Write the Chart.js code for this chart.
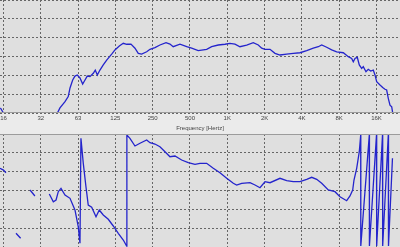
<!DOCTYPE html>
<html><head><meta charset="utf-8">
<script src="https://cdn.jsdelivr.net/npm/chart.js@4/dist/chart.umd.min.js"></script>
<style>
html,body{margin:0;padding:0;background:#ebebeb;overflow:hidden}
#w{position:relative;width:400px;height:247px;background:#ebebeb}
#c1{position:absolute;left:0;top:0}
#c2{position:absolute;left:0;top:134px}
</style></head><body>
<div id="w"><canvas id="c1" width="400" height="134"></canvas><canvas id="c2" width="400" height="113"></canvas></div>
<script>
// Frequency axis ticks
const tickFreqs = [16, 32, 64, 128, 256, 512, 1024, 2048, 4096, 8192, 16384];
const tickLabels = ['16', '32', '63', '125', '250', '500', '1K', '2K', '4K', '8K', '16K'];

// Magnitude response (dB, arbitrary reference); null = gap
const magFreq = [15.1, 16, 16.2,
  38, 42.5, 44, 45.7, 50.2, 53.3, 55.1, 57.9, 60.4, 63.1, 66.3, 69.7, 72.8, 75.9, 79.8, 84.9, 88.1, 91.5, 96.1,
  102.2, 108.9, 119.5, 127, 137.7, 148.3, 157.9, 171, 184.2, 195.9, 208.7, 229, 243.5, 267, 293, 328, 353, 375,
  425, 482, 528, 597, 698, 766, 866, 981, 1076, 1181, 1296, 1468, 1660, 1822, 1941, 2064, 2265, 2485, 2727,
  3087, 3490, 3953, 4478, 5063, 5557, 5918, 6494, 7126, 7820, 8842, 9702, 10333, 10646, 10990, 11466, 11902,
  12442, 12818, 13475, 14067, 14714, 15435, 15934, 16442, 17488, 18384, 19184, 19792, 20400, 21056, 21744, 22144];
const magDb = [42.7, 40, null,
  40, 40, 40.5, 42.7, 46.0, 48.7, 53.3, 57.5, 59.6, 60.2, 58.6, 55.4, 57.5, 59.6, 59.3, 61.1, 62.8, 60.2, 62.8,
  65.5, 68.1, 71.3, 73.5, 75.6, 77.0, 76.5, 76.6, 74.4, 71.7, 71.3, 72.5, 73.8, 74.7, 76.1, 77.3, 76.6, 75.2,
  76.5, 75.2, 74.4, 73.1, 73.8, 75.2, 76.1, 76.5, 77.0, 76.6, 75.2, 76.1, 77.3, 76.1, 74.4, 73.8, 73.8, 71.7, 70.8,
  71.3, 71.7, 72.0, 73.1, 74.4, 75.2, 76.1, 74.9, 73.5, 72.5, 72.0, 69.9, 69.0, 67.2, 69.0, 69.6, 65.5,
  63.7, 64.6, 61.9, 63.2, 62.3, 62.8, 60.2, 56.6, 54.9, 53.6, 52.6, 52.2, 47.8, 44.2, 43.3, 40.0];

// Phase response (degrees); null = gap
const phaseFreq = [15.0, 16, 16.75, 17,
  20.2, 22.0, 22.3,
  26.2, 28.7, 29,
  37.5, 40.4, 42.5, 44.3, 46.6, 50.2, 55.1, 60.4, 64.2, 66.3, 67.5, 70.5, 74.1, 77.3, 82.4, 89.3, 94.9, 102.2,
  112.2, 123.1, 135.1, 148.3, 157.9, 158.5, 167.8, 184.2, 202.2, 229, 243.5, 267, 293, 321.8, 353, 387.4, 438.7,
  496, 561.8, 616.5, 698, 789.6, 894, 1013, 1145, 1219, 1338, 1562, 1714, 1880, 2064, 2265, 2727, 3087, 3490,
  3953, 4478, 4915, 5394, 5918, 6691, 7574, 8312, 9416, 10014, 10528, 10787, 11339, 11902, 12219, 12240,
  14334, 14370, 16384, 16442, 18320, 18384, 20400, 20480, 22048];
const phaseDeg = [70.7, 65, 56.7, null,
  -136.4, -152.3, null,
  1.6, -17.5, null,
  -11.2, -35.7, -30.3, -3.8, 7, -14.3, -24.9, -62.1, -115.3, -168.2, 166.3, 86.6, 12.1, -46.2, -53.5, -83.5, -62.1, -78.1,
  -91.8, -113.1, -136.4, -157.7, -176.8, 176.8, 166.3, 141.8, 150.4, 160.9, 152.3, 148.1, 139.5, 123.6, 107.7, 109.9, 97.2,
  88.6, 83.5, 86.6, 86.6, 70.7, 56.7, 38.9, 22.9, 17.5, 22.9, 24.8, 17.5, 8.9, 28, 24.8, 38.9, 31.2, 28,
  28, 35.7, 42, 35.7, 22.9, 1.6, -3.8, -19.8, -32.5, -17.5, 1.6, 33.4, 70.7, 123.6, 176.8, -176.8,
  176.8, -176.8, 176.8, -176.8, 176.8, -176.8, 176.8, -176.8, 102.6];

const LINE = '#2424cc';
const GRID = '#666666';
const PLOT_BG = '#dfdfdf';
const OUTER_BG = '#ebebeb';

const bgPlugin = {
  id: 'bg',
  beforeDraw(chart) {
    const {ctx, chartArea: a} = chart;
    ctx.save();
    ctx.fillStyle = OUTER_BG;
    ctx.fillRect(0, 0, chart.width, chart.height);
    ctx.fillStyle = PLOT_BG;
    ctx.fillRect(a.left, a.top, a.right - a.left, a.bottom - a.top);
    ctx.restore();
  },
  afterDraw(chart, args, opts) {
    const {ctx, chartArea: a} = chart;
    ctx.save();
    ctx.strokeStyle = '#9c9c9c';
    ctx.lineWidth = 1;
    ctx.beginPath();
    if (opts.bottom) { ctx.moveTo(a.left, a.bottom - 0.5); ctx.lineTo(a.right, a.bottom - 0.5); }
    if (opts.top) { ctx.moveTo(a.left, a.top + 0.5); ctx.lineTo(a.right, a.top + 0.5); }
    ctx.stroke();
    ctx.restore();
  }
};

function xScale(showLabels) {
  return {
    type: 'logarithmic',
    min: 15.0,
    max: 25360,
    afterBuildTicks(s) { s.ticks = tickFreqs.map(v => ({value: v})); },
    afterFit(s) { s.height = showLabels ? 21 : 0; s.paddingLeft = 0; s.paddingRight = 0; },
    grid: {color: GRID, lineWidth: 1, drawTicks: false},
    border: {display: false, dash: [2, 2]},
    ticks: {
      display: showLabels,
      autoSkip: false,
      maxRotation: 0,
      padding: 2,
      color: '#444',
      font: {family: 'Liberation Sans', size: 6},
      callback(v) { const i = tickFreqs.indexOf(v); return i >= 0 ? tickLabels[i] : ''; }
    },
    title: {
      display: showLabels,
      text: 'Frequency [Hertz]',
      color: '#444',
      font: {family: 'Liberation Sans', size: 6},
      padding: {top: 0, bottom: 2}
    }
  };
}

function yScale(min, max, step) {
  return {
    type: 'linear', min, max,
    afterFit(s) { s.width = 0; },
    grid: {color: GRID, lineWidth: 1, drawTicks: false},
    border: {display: false, dash: [2, 2]},
    ticks: {display: false, stepSize: step}
  };
}

const common = {
  responsive: false, animation: false, devicePixelRatio: 1,
  layout: {padding: 0},
  plugins: {legend: {display: false}, tooltip: {enabled: false}},
  elements: {point: {radius: 0}, line: {tension: 0}}
};

new Chart(document.getElementById('c1'), {
  type: 'line',
  data: {datasets: [{
    data: magFreq.map((f, i) => ({x: f, y: magDb[i]})),
    borderColor: LINE, borderWidth: 1.3, spanGaps: false, fill: false
  }]},
  options: Object.assign({}, common, {
    plugins: Object.assign({}, common.plugins, {bg: {bottom: true}}),
    scales: {x: xScale(true), y: yScale(40, 100, 10)}
  }),
  plugins: [bgPlugin]
});

new Chart(document.getElementById('c2'), {
  type: 'line',
  data: {datasets: [{
    data: phaseFreq.map((f, i) => ({x: f, y: phaseDeg[i]})),
    borderColor: LINE, borderWidth: 1.3, spanGaps: false, fill: false
  }]},
  options: Object.assign({}, common, {
    plugins: Object.assign({}, common.plugins, {bg: {top: true}}),
    scales: {x: xScale(false), y: yScale(-180, 180, 60)}
  }),
  plugins: [bgPlugin]
});
</script>
</body></html>
